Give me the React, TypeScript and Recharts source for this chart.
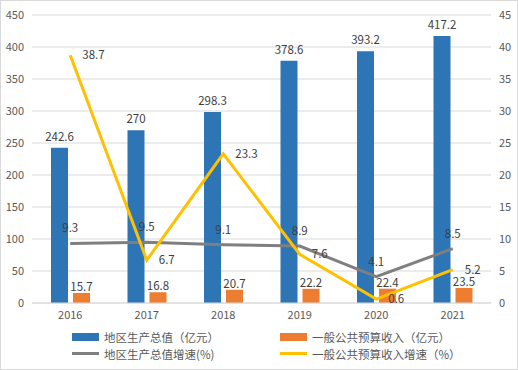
import React from "react";
import {
  ComposedChart,
  Bar,
  Line,
  XAxis,
  YAxis,
  CartesianGrid,
  Legend,
  LabelList,
} from "recharts";

const years = ["2016", "2017", "2018", "2019", "2020", "2021"];
const gdp = [242.6, 270, 298.3, 378.6, 393.2, 417.2];
const revenue = [15.7, 16.8, 20.7, 22.2, 22.4, 23.5];
const gdpGrowth = [9.3, 9.5, 9.1, 8.9, 4.1, 8.5];
const revenueGrowth = [38.7, 6.7, 23.3, 7.6, 0.6, 5.2];

const leftTicks = [0, 50, 100, 150, 200, 250, 300, 350, 400, 450];
const rightTicks = [0, 5, 10, 15, 20, 25, 30, 35, 40, 45];

const FONT = "'Noto Sans CJK SC', 'Noto Sans', sans-serif";
const BLUE = "#2E75B6";
const ORANGE = "#ED7D31";
const GREY = "#7F7F7F";
const YELLOW = "#FFC000";

const data = years.map((year, i) => ({
  year,
  gdp: gdp[i],
  revenue: revenue[i],
  gdpGrowth: gdpGrowth[i],
  revenueGrowth: revenueGrowth[i],
}));

const legendItems = [
  { name: "地区生产总值（亿元）", color: BLUE, kind: "bar" },
  { name: "一般公共预算收入（亿元）", color: ORANGE, kind: "bar" },
  { name: "地区生产总值增速(%)", color: GREY, kind: "line" },
  { name: "一般公共预算收入增速（%）", color: YELLOW, kind: "line" },
];

const renderLegend = () => (
  <div
    style={{
      width: 516,
      height: 40,
      boxSizing: "border-box",
      paddingTop: 3,
      paddingLeft: 71,
      display: "grid",
      gridTemplateColumns: "208px auto",
      gridAutoRows: "17px",
      fontFamily: FONT,
      fontSize: 11.5,
      color: "#595959",
    }}
  >
    {legendItems.map((item) => (
      <div key={item.name} style={{ display: "flex", alignItems: "center" }}>
        <div
          style={{
            width: 27,
            height: item.kind === "bar" ? 8 : 3,
            backgroundColor: item.color,
            marginRight: 5,
          }}
        ></div>
        <span>{item.name}</span>
      </div>
    ))}
  </div>
);

const labelStyle = { fill: "#404040", fontSize: 11.5, fontFamily: FONT };

export default function App() {
  return (
    <div
      style={{
        width: 518,
        height: 370,
        boxSizing: "border-box",
        border: "1px solid #D9D9D9",
        background: "#fff",
      }}
    >
      <style>{"body{margin:0}"}</style>
      <ComposedChart
        width={516}
        height={368}
        data={data}
        margin={{ top: 14, right: 0, left: 0, bottom: 4 }}
        barGap={5}
      >
        <CartesianGrid vertical={false} stroke="#D9D9D9" yAxisId="left" />
        <XAxis
          dataKey="year"
          height={22}
          tickLine={false}
          axisLine={{ stroke: "#D9D9D9" }}
          tick={{ fill: "#595959", fontSize: 11, fontFamily: FONT }}
        />
        <YAxis
          yAxisId="left"
          width={31}
          domain={[0, 450]}
          ticks={leftTicks}
          tickLine={false}
          axisLine={false}
          tick={{ fill: "#595959", fontSize: 11, fontFamily: FONT }}
        />
        <YAxis
          yAxisId="right"
          orientation="right"
          width={26}
          domain={[0, 45]}
          ticks={rightTicks}
          tickLine={false}
          axisLine={false}
          tick={{ fill: "#595959", fontSize: 11, fontFamily: FONT }}
        />
        <Legend content={renderLegend} verticalAlign="bottom" />
        <Bar
          yAxisId="left"
          dataKey="gdp"
          name="地区生产总值（亿元）"
          fill={BLUE}
          barSize={17}
          isAnimationActive={false}
        >
          <LabelList dataKey="gdp" position="top" offset={7} style={labelStyle} />
        </Bar>
        <Bar
          yAxisId="left"
          dataKey="revenue"
          name="一般公共预算收入（亿元）"
          fill={ORANGE}
          barSize={17}
          isAnimationActive={false}
        >
          <LabelList dataKey="revenue" position="top" offset={2} style={labelStyle} />
        </Bar>
        <Line
          yAxisId="right"
          type="linear"
          dataKey="gdpGrowth"
          name="地区生产总值增速(%)"
          stroke={GREY}
          strokeWidth={3}
          dot={false}
          isAnimationActive={false}
        >
          <LabelList dataKey="gdpGrowth" position="top" offset={11} style={labelStyle} />
        </Line>
        <Line
          yAxisId="right"
          type="linear"
          dataKey="revenueGrowth"
          name="一般公共预算收入增速（%）"
          stroke={YELLOW}
          strokeWidth={3}
          dot={false}
          isAnimationActive={false}
        >
          <LabelList dataKey="revenueGrowth" position="right" offset={12} style={labelStyle} />
        </Line>
      </ComposedChart>
    </div>
  );
}
